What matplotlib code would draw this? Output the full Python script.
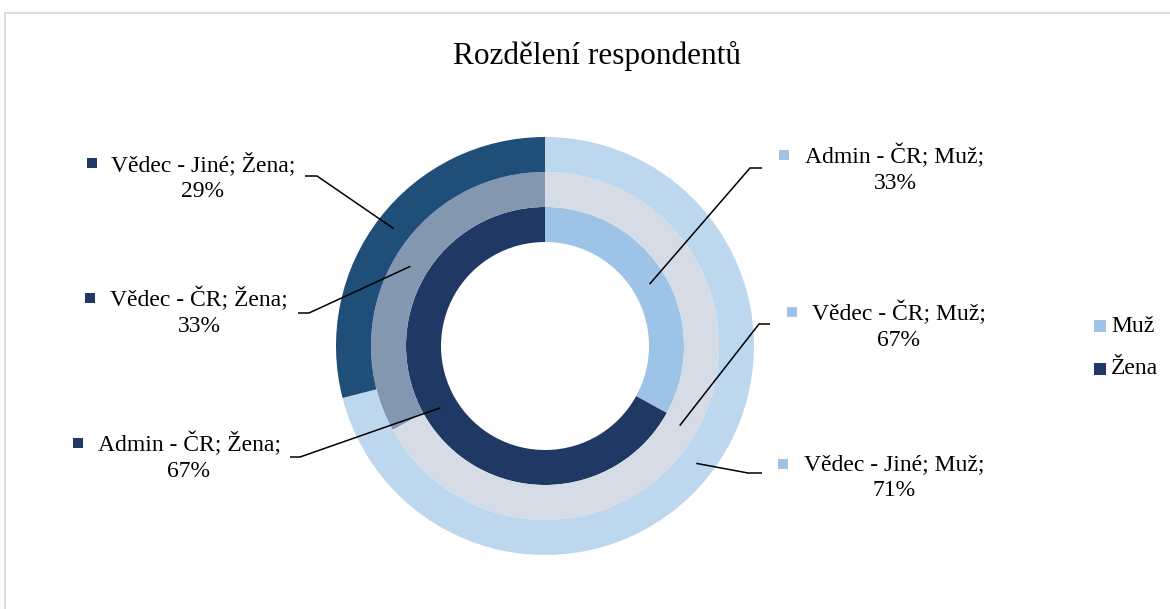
import numpy as np
import matplotlib
matplotlib.use('Agg')
import matplotlib.pyplot as plt

plt.rcParams['font.family'] = ['Liberation Serif', 'DejaVu Serif']

# Data: share of men / women per respondent group (inner -> outer ring)
groups = ['Admin - ČR', 'Vědec - ČR', 'Vědec - Jiné']
muz = [33, 67, 71]
zena = [67, 33, 29]
series = ['Muž', 'Žena']

# Colours per ring (Muž, Žena)
ring_colors = [('#9DC3E6', '#203864'),
               ('#D6DCE5', '#8497B0'),
               ('#BDD7EE', '#1F4E79')]
legend_colors = ['#9DC3E6', '#203864']

W, H = 1170, 609
cx, cy = 545, 346
ring_w = 35
hole = 104


def Y(y):
    return H - y


fig = plt.figure(figsize=(W / 100, H / 100), dpi=100)
ax = fig.add_axes([0, 0, 1, 1])

anchors = {}
for i, g in enumerate(groups):
    r = hole + ring_w * (i + 1)
    vals = [muz[i], zena[i]]
    ax.pie(vals, radius=r, center=(cx, Y(cy)), startangle=90,
           counterclock=False, colors=ring_colors[i],
           wedgeprops=dict(width=ring_w, edgecolor='none'))
    total = sum(vals)
    cum = 0
    for s, v in zip(series, vals):
        mid = np.deg2rad(90 - 360 * (cum + v / 2) / total)
        rm = r - ring_w / 2
        anchors[(g, s)] = (cx + rm * np.cos(mid), Y(cy) + rm * np.sin(mid))
        cum += v

ax.set_xlim(0, W)
ax.set_ylim(0, H)
ax.set_aspect('equal')
ax.axis('off')

# chart frame
ax.plot([5, 5], [Y(13), 0], color='#D9D9D9', lw=1.2, clip_on=False)
ax.plot([5, W], [Y(13), Y(13)], color='#D9D9D9', lw=1.2, clip_on=False)

ax.text(597, Y(56), 'Rozdělení respondentů', ha='center', va='center',
        fontsize=22.5)

# label layout: (group, series, text centre x, first line y, square x, elbow, line end)
labels = [
    ('Vědec - Jiné', 'Žena', 203, 163, 92, (317, 176), (305, 176)),
    ('Vědec - ČR', 'Žena', 199, 298, 90, (309, 313), (298, 313)),
    ('Admin - ČR', 'Žena', 189, 443, 78, (300, 457), (290, 457)),
    ('Admin - ČR', 'Muž', 895, 155, 784, (750, 168), (762, 168)),
    ('Vědec - ČR', 'Muž', 899, 312, 792, (759, 324), (770, 324)),
    ('Vědec - Jiné', 'Muž', 894, 464, 783, (748, 473), (762, 473)),
]

for g, s, tx, ty, sx, elbow, end in labels:
    i = groups.index(g)
    pct = muz[i] if s == 'Muž' else zena[i]
    ax.text(tx, Y(ty + 14), f'{g}; {s};\n{pct}%', ha='center', va='center',
            fontsize=17, linespacing=1.3)
    ax.plot(sx, Y(ty), marker='s', ms=7.5, mew=0,
            color=legend_colors[series.index(s)])
    a = anchors[(g, s)]
    ax.plot([a[0], elbow[0], end[0]], [a[1], Y(elbow[1]), Y(end[1])],
            color='black', lw=1.1, solid_capstyle='butt')

# legend
for k, (s, c) in enumerate(zip(series, legend_colors)):
    ly = 326 + 43 * k
    ax.plot(1100, Y(ly), marker='s', ms=8, mew=0, color=c)
    ax.text(1111, Y(ly), s, ha='left', va='center', fontsize=17)

fig.savefig('out.png', dpi=100)
